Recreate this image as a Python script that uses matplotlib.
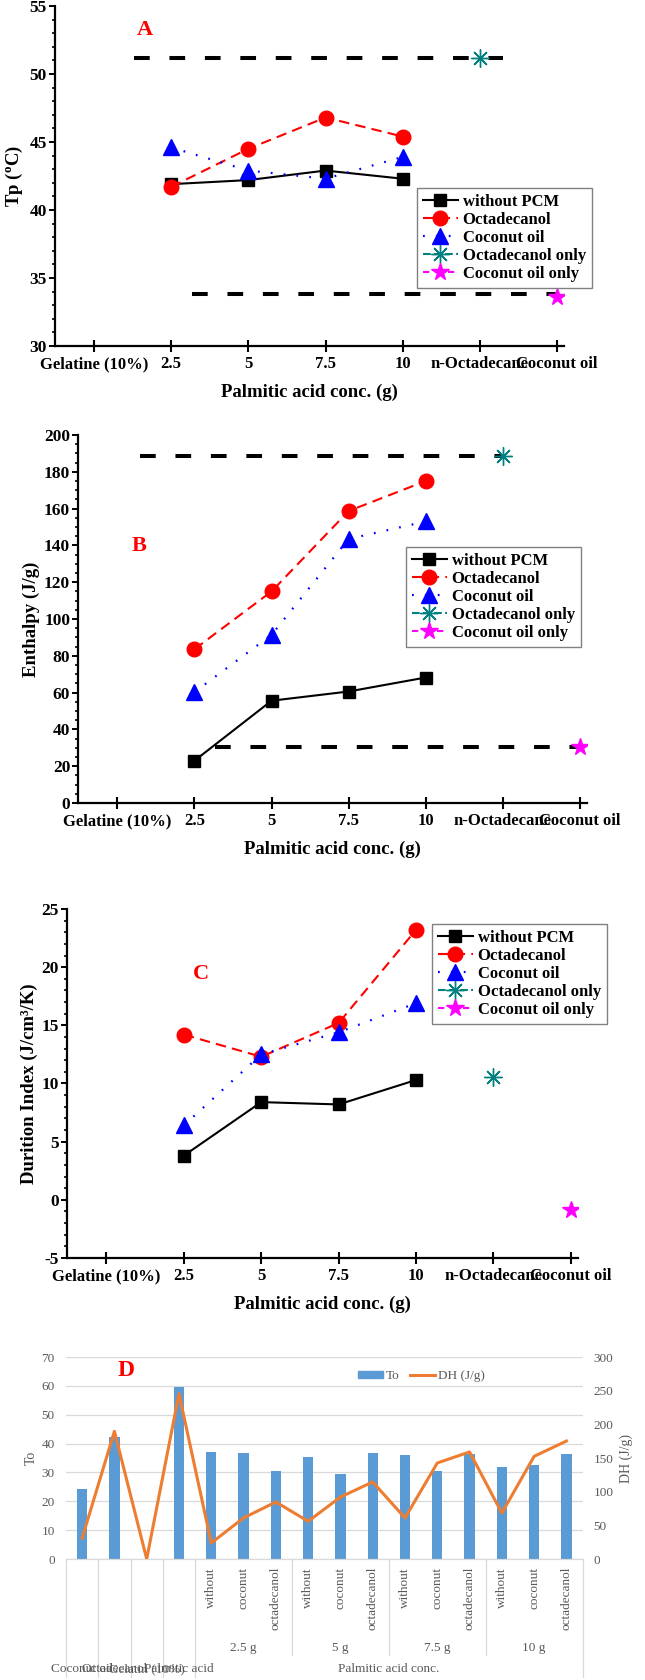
import numpy as np
import matplotlib.pyplot as plt
import matplotlib.transforms as mtransforms
from matplotlib.ticker import MultipleLocator
from matplotlib.lines import Line2D
from matplotlib.patches import Patch

plt.rcParams['font.family'] = ['Liberation Serif', 'DejaVu Serif']
plt.rcParams['mathtext.fontset'] = 'custom'
plt.rcParams['mathtext.rm'] = 'Liberation Serif:bold'
plt.rcParams['mathtext.bf'] = 'Liberation Serif:bold'
plt.rcParams['axes.unicode_minus'] = False

# x categories for panels A-C
cats = ['Gelatine (10%)', '2.5', '5', '7.5', '10', 'n-Octadecane', 'Coconut oil']
conc_pos = [1, 2, 3, 4]

# panel A: Tp (oC)
tp_without = [41.9, 42.2, 42.9, 42.3]
tp_octa = [41.7, 44.5, 46.8, 45.4]
tp_coco = [44.6, 42.9, 42.3, 43.9]
tp_octa_only = 51.2
tp_coco_only = 33.6
tp_ref = [51.2, 33.8]

# panel B: enthalpy (J/g)
dh_without = [23.0, 55.6, 60.6, 68.2]
dh_octa = [83.6, 115.0, 158.7, 175.0]
dh_coco = [60.3, 91.4, 143.5, 153.0]
dh_octa_only = 188.8
dh_coco_only = 30.4
dh_ref = [188.8, 30.5]

# panel C: durition index
di_without = [3.8, 8.4, 8.2, 10.3]
di_octa = [14.2, 12.3, 15.2, 23.2]
di_coco = [6.4, 12.5, 14.4, 16.9]
di_octa_only = 10.6
di_coco_only = -0.9

# panel D
d_main = ['Coconut oil', 'Octadecanol', 'Gelatin (10%)', 'Palmitic acid']
d_groups = ['2.5 g', '5 g', '7.5 g', '10 g']
d_sub = ['without', 'coconut', 'octadecanol']
to_vals = [24.3, 42.3, 0, 59.6, 37.1, 36.7, 30.5, 35.5, 29.5, 36.8,
           36.2, 30.6, 36.3, 31.9, 32.5, 36.3]
dh_vals = [31, 189.6, 0, 245.5, 23.8, 61, 84.7, 56, 92, 114.4,
           61, 142.6, 159, 68.3, 152.5, 175.2]

BOLD = dict(fontweight='bold')


def panel(ax, without, octa, coco, octa_only, coco_only, ylim, major, minor,
          ylabel, letter, letter_xy, leg_anchor, refs=None, ref_spans=None):
    if refs is not None:
        for yv, (x0, x1) in zip(refs, ref_spans):
            ax.plot([x0, x1], [yv, yv], color='black', lw=2.9, dashes=(3.9, 4.9),
                    zorder=1)
    ax.plot(conc_pos, without, color='black', marker='s', ms=9, lw=1.5,
            label='without PCM', zorder=3)
    ax.plot(conc_pos, octa, color='red', marker='o', ms=10.5, lw=1.5,
            dashes=(5, 3), label='Octadecanol', zorder=3)
    ax.plot(conc_pos, coco, color='blue', marker='^', ms=11, lw=1.6,
            linestyle=(0, (0.8, 5)), label='Coconut oil', zorder=3)
    ax.plot([5], [octa_only], color='#008080', marker=(8, 2, 0), ms=13, mew=1,
            linestyle='--', label='Octadecanol only', zorder=3)
    ax.plot([6], [coco_only], color='magenta', marker='*', ms=13,
            linestyle=(0, (3, 3)), label='Coconut oil only', zorder=3)

    ax.set_xlim(-0.505, 6.09)
    ax.set_ylim(*ylim)
    ax.set_xticks(range(len(cats)))
    ax.set_xticklabels(cats)
    ax.yaxis.set_major_locator(MultipleLocator(major))
    ax.yaxis.set_minor_locator(MultipleLocator(minor))
    for s in ['top', 'right']:
        ax.spines[s].set_visible(False)
    for s in ['left', 'bottom']:
        ax.spines[s].set_linewidth(1.6)
    ax.tick_params(axis='x', direction='inout', length=9, width=1.5, pad=3,
                   labelsize=12)
    ax.tick_params(axis='y', direction='out', length=4, width=1.4, pad=2,
                   labelsize=12.5)
    ax.tick_params(axis='y', which='minor', direction='out', length=2.5, width=1.2)
    for lab in ax.get_xticklabels() + ax.get_yticklabels():
        lab.set_fontweight('bold')
    ax.set_xlabel('Palmitic acid conc. (g)', fontsize=13.5, labelpad=8, **BOLD)
    ax.set_ylabel(ylabel, fontsize=13.5, labelpad=3, **BOLD)
    ax.text(letter_xy[0], letter_xy[1], letter, color='red', fontsize=16,
            ha='center', va='center', **BOLD)
    leg = ax.legend(loc='upper left', bbox_to_anchor=leg_anchor,
                    prop=dict(family='Liberation Serif', weight='bold', size=12),
                    frameon=True, fancybox=False, edgecolor='#808080',
                    framealpha=1, borderpad=0.35, labelspacing=0.12,
                    handlelength=2.1, handletextpad=0.3, borderaxespad=0)
    leg.get_frame().set_linewidth(1.0)


fig = plt.figure(figsize=(6.45, 16.8), dpi=100)

axA = fig.add_axes([0.0853, 0.79405, 0.7891, 0.20238])
panel(axA, tp_without, tp_octa, tp_coco, tp_octa_only, tp_coco_only,
      (30, 55), 5, 1, r'Tp ($\mathregular{^o}$C)', 'A', (0.66, 53.2),
      (0.711, 0.465), refs=tp_ref, ref_spans=[(0.52, 5.3), (1.27, 6.03)])

axB = fig.add_axes([0.1217, 0.52202, 0.7881, 0.21905])
panel(axB, dh_without, dh_octa, dh_coco, dh_octa_only, dh_coco_only,
      (0, 200), 20, 5, 'Enthalpy (J/g)', 'B', (0.28, 139.7),
      (0.644, 0.696), refs=dh_ref, ref_spans=[(0.29, 5.0), (1.26, 5.98)])

axC = fig.add_axes([0.1045, 0.25119, 0.7912, 0.20774])
panel(axC, di_without, di_octa, di_coco, di_octa_only, di_coco_only,
      (-5, 25), 5, 1, 'Durition Index (J/cm³/K)', 'C', (1.22, 19.4),
      (0.714, 0.957))

# panel D
GRAY = '#595959'
LINE = '#D9D9D9'
x = np.arange(len(to_vals))
axD = fig.add_axes([0.1023, 0.07202, 0.8009, 0.12024])
axD.bar(x, to_vals, width=0.32, color='#5B9BD5', zorder=2, label='To')
axD.set_xlim(-0.5, len(to_vals) - 0.5)
axD.set_ylim(0, 70)
axD.set_yticks(range(0, 71, 10))
axD.grid(axis='y', color=LINE, lw=0.9)
axD.set_axisbelow(True)
for s in ['top', 'right', 'left']:
    axD.spines[s].set_visible(False)
axD.spines['bottom'].set_color(LINE)
axD.spines['bottom'].set_linewidth(0.9)
axD.tick_params(axis='x', length=0, labelbottom=False)
axD.tick_params(axis='y', length=0, labelcolor=GRAY, labelsize=9.5, pad=8)
axD.set_ylabel('To', color=GRAY, fontsize=10, labelpad=3)

axD2 = axD.twinx()
axD2.plot(x, dh_vals, color='#ED7D31', lw=2.2, zorder=3)
axD2.set_ylim(0, 300)
axD2.set_yticks(range(0, 301, 50))
for s in ['top', 'right', 'left', 'bottom']:
    axD2.spines[s].set_visible(False)
axD2.tick_params(axis='y', length=0, labelcolor=GRAY, labelsize=9.5, pad=8)
axD2.set_ylabel('DH (J/g)', color=GRAY, fontsize=10, labelpad=4)

axD.text(1.36, 65.4, 'D', color='red', fontsize=17, ha='center', va='center',
         fontweight='bold')

handles = [Patch(color='#5B9BD5', label='To'),
           Line2D([], [], color='#ED7D31', lw=2.2, label='DH (J/g)')]
axD.legend(handles=handles, loc='center left', bbox_to_anchor=(0.565, 0.906),
           ncol=2, frameon=False, fontsize=9.5, handlelength=1.9,
           handleheight=0.5, handletextpad=0.2, columnspacing=0.8,
           borderpad=0, borderaxespad=0, labelcolor=GRAY)

trans = mtransforms.blended_transform_factory(axD.transData, axD.transAxes)
for i, lab in enumerate(d_main):
    axD.text(i, -0.545, lab, transform=trans, ha='center', va='center',
             color=GRAY, fontsize=9.5)
for g, glab in enumerate(d_groups):
    for j, sub in enumerate(d_sub):
        idx = len(d_main) + 3 * g + j
        axD.text(idx, -0.04, sub, transform=trans, rotation=90, ha='center',
                 va='top', color=GRAY, fontsize=9.5)
    axD.text(len(d_main) + 3 * g + 1, -0.44, glab, transform=trans,
             ha='center', va='center', color=GRAY, fontsize=9.5)
axD.text((len(d_main) + len(to_vals) - 1) / 2, -0.545, 'Palmitic acid conc.',
         transform=trans, ha='center', va='center', color=GRAY, fontsize=9.5)

full = [-0.5, 0.5, 1.5, 2.5, 3.5, len(to_vals) - 0.5]
mid = [6.5, 9.5, 12.5]
for b in full:
    axD.plot([b, b], [0, -0.584], transform=trans, color=LINE, lw=0.9,
             clip_on=False)
for b in mid:
    axD.plot([b, b], [0, -0.475], transform=trans, color=LINE, lw=0.9,
             clip_on=False)

fig.savefig('out.png', dpi=100)
